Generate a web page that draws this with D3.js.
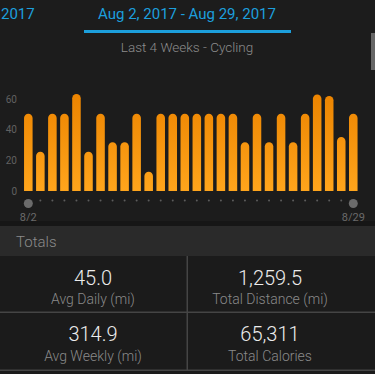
<!DOCTYPE html>
<html>
<head>
<meta charset="utf-8">
<script src="https://cdn.jsdelivr.net/npm/d3@7/dist/d3.min.js"></script>
<style>
  html, body { margin: 0; padding: 0; background: #1c1c1c; }
  svg { display: block; font-family: Roboto, "Noto Sans", sans-serif; }
</style>
</head>
<body>
<svg id="chart" width="375" height="374"></svg>
<script>
// Daily cycling distance (mi), Aug 2 – Aug 29, 2017
const days = ["8/2","8/3","8/4","8/5","8/6","8/7","8/8","8/9","8/10","8/11","8/12","8/13","8/14","8/15",
              "8/16","8/17","8/18","8/19","8/20","8/21","8/22","8/23","8/24","8/25","8/26","8/27","8/28","8/29"];
const miles = [50.4, 25.6, 50.4, 50.4, 63.2, 25.6, 50.4, 31.8, 31.8, 50.4, 12.5, 50.4, 50.4, 50.4,
               50.4, 50.4, 50.4, 50.4, 31.8, 50.4, 31.8, 50.4, 31.8, 50.4, 63.0, 61.9, 35.2, 50.4];
const yTicks = [0, 20, 40, 60];
const edgeLabels = ["8/2", "8/29"];

// Summary tiles
const statValues = ["45.0", "1,259.5", "314.9", "65,311"];
const statLabels = ["Avg Daily (mi)", "Total Distance (mi)", "Avg Weekly (mi)", "Total Calories"];

const svg = d3.select("#chart");
const W = 375, H = 374;

svg.append("rect").attr("width", W).attr("height", H).attr("fill", "#1c1c1c");

// ---- header ----
const blue = "#1c9fdc";
svg.append("text").attr("x", 1).attr("y", 19).attr("fill", blue)
  .attr("font-size", 15).text("2017");
svg.append("text").attr("x", 187).attr("y", 19).attr("fill", blue)
  .attr("font-size", 15).attr("text-anchor", "middle").text("Aug 2, 2017 - Aug 29, 2017");
svg.append("rect").attr("x", 84).attr("y", 30).attr("width", 207).attr("height", 3).attr("fill", blue);
svg.append("text").attr("x", 187).attr("y", 52).attr("fill", "#8c8c8c")
  .attr("font-size", 13.5).attr("font-weight", 300).attr("text-anchor", "middle").text("Last 4 Weeks - Cycling");
// scroll indicator
svg.append("rect").attr("x", 371).attr("y", 33).attr("width", 4).attr("height", 37).attr("fill", "#666");

// ---- bar chart ----
const x = d3.scaleBand().domain(days).range([22.3, 359.3]).paddingInner(0.29).paddingOuter(0.145);
const y = d3.scaleLinear().domain([0, 60]).range([191, 99]);

const defs = svg.append("defs");
const grad = defs.append("linearGradient").attr("id", "barFill")
  .attr("gradientUnits", "userSpaceOnUse")
  .attr("x1", 0).attr("x2", 0).attr("y1", y(63)).attr("y2", y(0));
grad.append("stop").attr("offset", "0%").attr("stop-color", "#ec8400");
grad.append("stop").attr("offset", "100%").attr("stop-color", "#ffa51c");

const yAxis = d3.axisLeft(y).tickValues(yTicks).tickSize(0).tickPadding(0);
const gy = svg.append("g").attr("transform", "translate(17,0)").call(yAxis);
gy.select(".domain").remove();
gy.selectAll("text").attr("fill", "#616161").attr("font-size", 10)
  .attr("font-family", "Roboto, sans-serif");

const bw = x.bandwidth();
const r = bw / 2;
function barPath(d, i) {
  const x0 = x(days[i]), x1 = x0 + bw, yb = y(0), yt = y(d);
  return `M${x0},${yb} L${x0},${yt + r} A${r},${r} 0 0 1 ${x1},${yt + r} L${x1},${yb} Z`;
}
svg.append("g").selectAll("path").data(miles).join("path")
  .attr("d", barPath).attr("fill", "url(#barFill)");

// day markers under the axis
const cx = d => x(d) + bw / 2;
svg.append("g").selectAll("circle").data(days.slice(1, -1)).join("circle")
  .attr("cx", cx).attr("cy", 200.5).attr("r", 1).attr("fill", "#5c5c5c");
svg.append("g").selectAll("circle").data(edgeLabels).join("circle")
  .attr("cx", cx).attr("cy", 203.5).attr("r", 4.5).attr("fill", "#6b6b6b");
svg.append("g").selectAll("text").data(edgeLabels).join("text")
  .attr("x", cx).attr("y", 220.5).attr("text-anchor", "middle")
  .attr("fill", "#6a6a6a").attr("font-size", 11).text(d => d);

// ---- totals panel ----
svg.append("rect").attr("x", 0).attr("y", 221).attr("width", W).attr("height", 5).attr("fill", "#161616");
svg.append("rect").attr("x", 0).attr("y", 226).attr("width", W).attr("height", 30).attr("fill", "#2a2a2a");
svg.append("text").attr("x", 16).attr("y", 247).attr("fill", "#8a8a8a")
  .attr("font-size", 15).attr("font-weight", 300).text("Totals");

svg.append("rect").attr("x", 0).attr("y", 256).attr("width", W).attr("height", 118).attr("fill", "#1b1b1b");
const lineColor = "#454545";
svg.append("rect").attr("x", 0).attr("y", 311.5).attr("width", W).attr("height", 1.5).attr("fill", lineColor);
svg.append("rect").attr("x", 0).attr("y", 369.5).attr("width", W).attr("height", 1.5).attr("fill", lineColor);
svg.append("rect").attr("x", 186.5).attr("y", 256).attr("width", 1.5).attr("height", 114).attr("fill", lineColor);

const colX = [93, 270];
const rowY = [284.5, 341];
statValues.forEach((v, i) => {
  const cxp = colX[i % 2], by = rowY[Math.floor(i / 2)];
  svg.append("text").attr("x", cxp).attr("y", by).attr("text-anchor", "middle")
    .attr("fill", "#ececec").attr("font-size", 20).attr("font-weight", 300).text(v);
  svg.append("text").attr("x", cxp).attr("y", by + 19.5).attr("text-anchor", "middle")
    .attr("fill", "#8a8a8a").attr("font-size", 14).attr("font-weight", 300).text(statLabels[i]);
});
</script>
</body>
</html>
